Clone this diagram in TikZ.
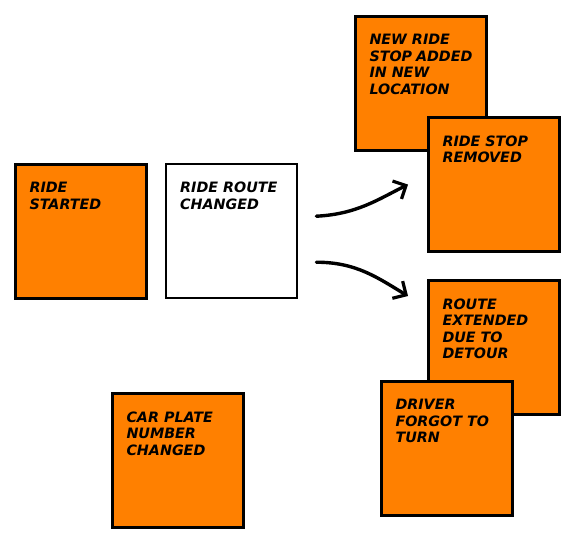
\documentclass[tikz,border=0pt]{standalone}
\usepackage{fontspec}
\setmainfont{DejaVu Sans}
\usetikzlibrary{arrows.meta,shadows,calc}
\definecolor{sticky}{HTML}{FF8000}
\newcommand{\notetext}[1]{\parbox[t][98pt][t]{103pt}{\raggedright\hfuzz=20pt\fontsize{14.3}{16.5}\selectfont\bfseries\itshape #1}}
\tikzset{
  x=1pt, y=-1pt,
  note/.style={draw=black, line width=3pt, fill=sticky, rectangle, anchor=north west,
    inner xsep=14pt, inner ysep=18pt, align=left,
    drop shadow={shadow xshift=1.2pt, shadow yshift=-1.2pt, opacity=0.35, fill=gray}},
  whitenote/.style={note, fill=white, line width=2.4pt},
  flow/.style={line width=3.4pt, line cap=round, -{Straight Barb[length=10pt,width=20pt,line width=3.2pt]}}
}
\begin{document}
\begin{tikzpicture}
\useasboundingbox (0,0) rectangle (575,541);
\node[note] (started) at (14,163) {\notetext{RIDE\\STARTED}};
\node[whitenote] (route) at (165,163) {\notetext{RIDE~ROUTE\\CHANGED}};
\node[note] (added) at (354,15) {\notetext{NEW~RIDE\\STOP~ADDED\\IN~NEW\\LOCATION}};
\node[note] (removed) at (427,116) {\notetext{RIDE~STOP\\REMOVED}};
\node[note] (extended) at (427,279) {\notetext{ROUTE\\EXTENDED\\DUE~TO\\DETOUR}};
\node[note] (forgot) at (380,380) {\notetext{DRIVER\\FORGOT~TO\\TURN}};
\node[note] (plate) at (111,392) {\notetext{CAR~PLATE\\NUMBER\\CHANGED}};
\coordinate (s1) at ($(route.east)+(18,-15)$);
\coordinate (s2) at ($(route.east)+(18,31)$);
\coordinate (e1) at ($(removed.west)+(-19,0)$);
\coordinate (e2) at ($(extended.north west)+(-19,17)$);
\draw[flow] (s1) .. controls ($(s1)+(40,-2)$) and ($(e1)+(-30,15)$) .. (e1);
\draw[flow] (s2) .. controls ($(s2)+(40,0)$) and ($(e2)+(-30,-18)$) .. (e2);
\end{tikzpicture}
\end{document}
